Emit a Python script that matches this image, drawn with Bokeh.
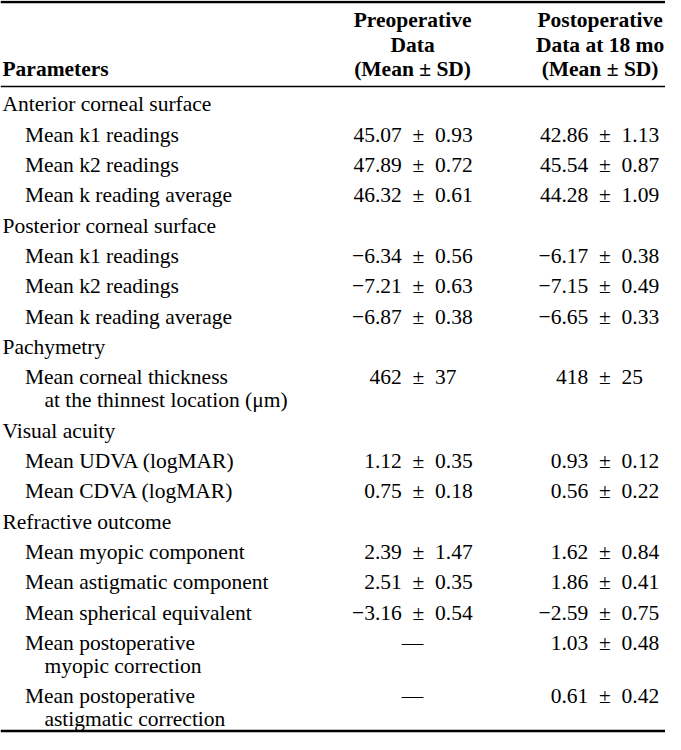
from bokeh.plotting import figure
from bokeh.models import Range1d, ColumnDataSource
from bokeh.core.properties import value
from bokeh.embed import file_html
from bokeh.resources import INLINE

# ---------------- data ----------------
col_headers_pre = ["Preoperative", "Data", "(Mean \u00b1 SD)"]
col_headers_post = ["Postoperative", "Data at 18 mo", "(Mean \u00b1 SD)"]
param_header = "Parameters"

sections = ["Anterior corneal surface", "Posterior corneal surface",
            "Pachymetry", "Visual acuity", "Refractive outcome"]

parameters = [
    ["Mean k1 readings"],
    ["Mean k2 readings"],
    ["Mean k reading average"],
    ["Mean k1 readings"],
    ["Mean k2 readings"],
    ["Mean k reading average"],
    ["Mean corneal thickness", "at the thinnest location (\u03bcm)"],
    ["Mean UDVA (logMAR)"],
    ["Mean CDVA (logMAR)"],
    ["Mean myopic component"],
    ["Mean astigmatic component"],
    ["Mean spherical equivalent"],
    ["Mean postoperative", "myopic correction"],
    ["Mean postoperative", "astigmatic correction"],
]
section_index = [0, 0, 0, 1, 1, 1, 2, 3, 3, 4, 4, 4, 4, 4]

pre_values = ["45.07 \u00b1 0.93", "47.89 \u00b1 0.72", "46.32 \u00b1 0.61",
              "\u22126.34 \u00b1 0.56", "\u22127.21 \u00b1 0.63", "\u22126.87 \u00b1 0.38",
              "462 \u00b1 37",
              "1.12 \u00b1 0.35", "0.75 \u00b1 0.18",
              "2.39 \u00b1 1.47", "2.51 \u00b1 0.35", "\u22123.16 \u00b1 0.54",
              "\u2014", "\u2014"]
post_values = ["42.86 \u00b1 1.13", "45.54 \u00b1 0.87", "44.28 \u00b1 1.09",
               "\u22126.17 \u00b1 0.38", "\u22127.15 \u00b1 0.49", "\u22126.65 \u00b1 0.33",
               "418 \u00b1 25",
               "0.93 \u00b1 0.12", "0.56 \u00b1 0.22",
               "1.62 \u00b1 0.84", "1.86 \u00b1 0.41", "\u22122.59 \u00b1 0.75",
               "1.03 \u00b1 0.48", "0.61 \u00b1 0.42"]

# ---------------- layout (reference pixel space) ----------------
W_REF, H_REF = 681, 750
PW, PH = 665, 734
scale = PW / W_REF
FS_REF = 22.0
fs = f"{FS_REF * scale:.1f}px"
FONT = "Liberation Serif"
SP = "\u2002"  # wider space around the plus-minus sign in body cells


def pm_spaced(s):
    return s.replace(" \u00b1 ", SP + "\u00b1" + SP)


X_SEC, X_ITEM, X_CONT = 2, 25, 45
PM_X = [428, 619]          # x of the "\u00b1" in each value column
HDR_X = [422, 614]
HDR_Y = [20, 45, 70]
Y0, PITCH, WRAP = 106, 31.0, 23.5

CHW = {str(d): 0.5 for d in range(10)}
CHW.update({".": 0.25, " ": 0.25, SP: 0.5, "\u2212": 0.564, "\u00b1": 0.549})


def em_width(s):
    return sum(CHW.get(c, 0.5) for c in s)


p = figure(width=PW, height=PH, output_backend="svg", toolbar_location=None,
           x_range=Range1d(0, W_REF), y_range=Range1d(H_REF, 0),
           min_border=0)
p.axis.visible = False
p.grid.visible = False
p.outline_line_color = None
p.background_fill_color = "white"
p.border_fill_color = "white"

# header
hx, hy, ht = [], [], []
for i, t in enumerate(col_headers_pre):
    hx.append(HDR_X[0]); hy.append(HDR_Y[i]); ht.append(t)
for i, t in enumerate(col_headers_post):
    hx.append(HDR_X[1]); hy.append(HDR_Y[i]); ht.append(t)
p.text(x=hx, y=hy, text=ht, text_font=value(FONT), text_font_style="bold",
       text_font_size=fs, text_align="center", text_baseline="alphabetic",
       text_color="black")
p.text(x=[X_SEC], y=[HDR_Y[2]], text=[param_header], text_font=value(FONT),
       text_font_style="bold", text_font_size=fs, text_align="left",
       text_baseline="alphabetic", text_color="black")

# body
lx, ly, lt = [], [], []
vx, vy, vt, va = [], [], [], []
y = Y0
prev_sec = None
for i, lines in enumerate(parameters):
    if section_index[i] != prev_sec:
        prev_sec = section_index[i]
        lx.append(X_SEC); ly.append(y); lt.append(sections[prev_sec])
        y += PITCH
    lx.append(X_ITEM); ly.append(y); lt.append(lines[0])
    for c, val in enumerate([pre_values[i], post_values[i]]):
        if "\u00b1" in val:
            sval = pm_spaced(val)
            right = sval.split("\u00b1")[1]
            xa = PM_X[c] + (CHW["\u00b1"] / 2 + em_width(right)) * FS_REF
            vx.append(xa); va.append("right"); vt.append(sval)
        else:
            vx.append(PM_X[c] - 6); va.append("center"); vt.append(val)
        vy.append(y)
    for extra in lines[1:]:
        y += WRAP
        lx.append(X_CONT); ly.append(y); lt.append(extra)
    y += PITCH

p.text(x=lx, y=ly, text=lt, text_font=value(FONT), text_font_size=fs,
       text_align="left", text_baseline="alphabetic", text_color="black")
src = ColumnDataSource(dict(x=vx, y=vy, text=vt, align=va))
p.text(x="x", y="y", text="text", text_align="align", source=src,
       text_font=value(FONT), text_font_size=fs, text_baseline="alphabetic",
       text_color="black")

# rules
p.segment(x0=[0, 0, 0], y0=[1.5, 88, 746.5], x1=[W_REF] * 3, y1=[1.5, 88, 746.5],
          line_color="black", line_width=[2.5, 1.5, 2.5])

open("out.html", "w").write(file_html(p, INLINE))
